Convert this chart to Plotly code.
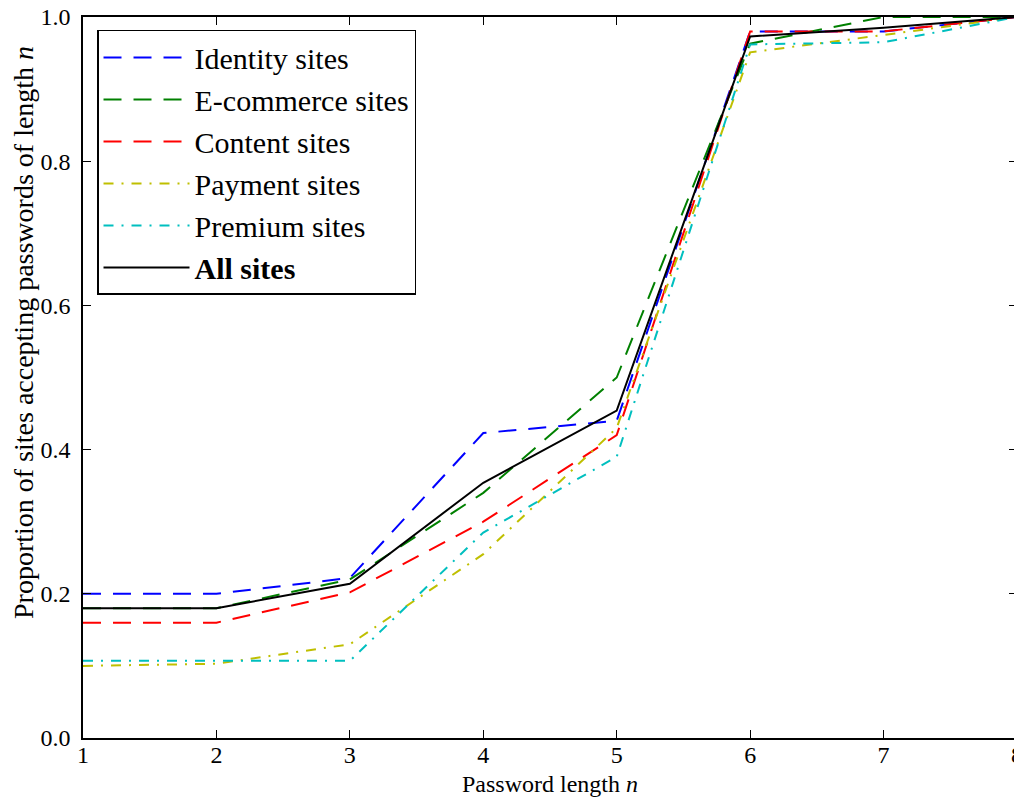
import plotly.graph_objects as go

lengths = [1, 2, 3, 4, 5, 6, 7, 8]
identity = [0.200, 0.200, 0.222, 0.423, 0.440, 0.980, 0.980, 1.000]
ecommerce = [0.180, 0.180, 0.220, 0.340, 0.500, 0.963, 1.000, 1.000]
content = [0.160, 0.160, 0.202, 0.300, 0.420, 0.980, 0.980, 1.000]
payment = [0.100, 0.103, 0.130, 0.255, 0.430, 0.951, 0.975, 1.000]
premium = [0.107, 0.107, 0.107, 0.285, 0.390, 0.962, 0.965, 1.000]
all_sites = [0.180, 0.180, 0.214, 0.354, 0.454, 0.973, 0.985, 1.000]

x_title = "Password length <i>n</i>"
y_title = "Proportion of sites accepting passwords of length <i>n</i>"

series = [
    ("Identity sites", identity, "#0000ff", "18px,12px"),
    ("E-commerce sites", ecommerce, "#008000", "18px,12px"),
    ("Content sites", content, "#ff0000", "18px,12px"),
    ("Payment sites", payment, "#bfbf00", "10px,8px,2px,8px"),
    ("Premium sites", premium, "#00bfbf", "10px,8px,2px,8px"),
    ("<b>All sites</b>", all_sites, "#000000", "solid"),
]

fig = go.Figure()
for name, vals, color, dash in series:
    fig.add_trace(go.Scatter(x=lengths, y=vals, mode="lines", name=name,
                             line=dict(color=color, width=2, dash=dash)))

axis_common = dict(showgrid=False, zeroline=False, showline=True, linecolor="black",
                   linewidth=1.5, mirror="ticks", ticks="inside", ticklen=8,
                   tickcolor="black", tickwidth=1, automargin=False,
                   ticklabeloverflow="allow",
                   tickfont=dict(family="Liberation Serif", size=24, color="black"))

fig.update_layout(
    width=1014, height=790,
    margin=dict(l=75, r=5, t=9, b=60),
    paper_bgcolor="white", plot_bgcolor="white",
    font=dict(family="Liberation Serif", color="black"),
    xaxis=dict(range=[1, 8], tickvals=lengths, ticktext=[str(v) for v in lengths],
               ticklabelstandoff=-6, **axis_common),
    yaxis=dict(range=[0, 1], tickvals=[0, 0.2, 0.4, 0.6, 0.8, 1.0], tickformat=".1f",
               ticklabelstandoff=6, **axis_common),
    legend=dict(x=0.015, y=0.982, xanchor="left", yanchor="top",
                bordercolor="black", borderwidth=1.5, bgcolor="white",
                font=dict(family="Liberation Serif", size=30, color="black"),
                tracegroupgap=0, itemwidth=86),
    showlegend=True,
    annotations=[
        dict(text=x_title, xref="paper", yref="paper", x=0.5, y=0,
             xanchor="center", yanchor="middle", yshift=-46, showarrow=False,
             font=dict(family="Liberation Serif", size=24, color="black")),
        dict(text=y_title, xref="paper", yref="paper", x=-60 / 934, y=(738 - 333) / 721,
             xanchor="center", yanchor="middle", textangle=-90, showarrow=False,
             font=dict(family="Liberation Serif", size=28, color="black")),
    ],
)

fig.write_html("out.html")
